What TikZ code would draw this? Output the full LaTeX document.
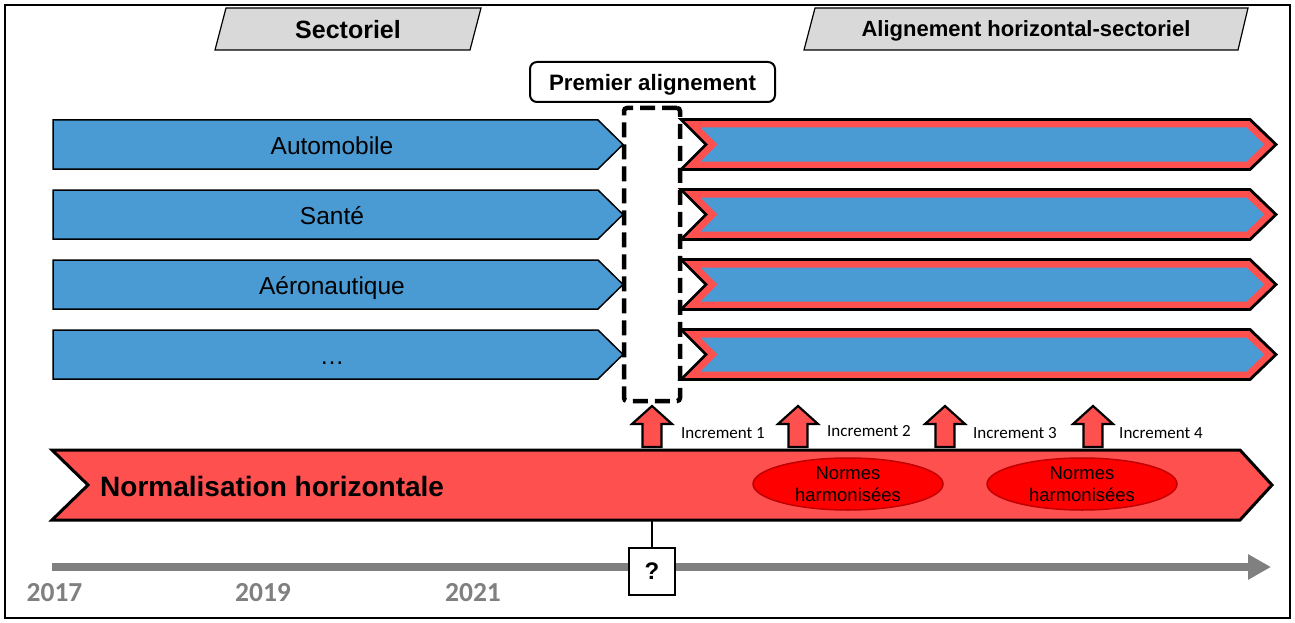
\documentclass[tikz,border=0pt]{standalone}
\usepackage{fontspec}
\setmainfont{Liberation Sans}
\newfontfamily\calfont{Carlito}
\usetikzlibrary{arrows.meta,shapes.geometric}
\definecolor{sblue}{RGB}{74,155,212}
\definecolor{sred}{RGB}{255,80,80}
\definecolor{ered}{RGB}{255,0,0}
\definecolor{eborder}{RGB}{192,0,0}
\definecolor{tabgray}{RGB}{217,217,217}
\definecolor{tgray}{RGB}{128,128,128}
\tikzset{
  tabshape/.style={draw=black, fill=tabgray, line width=1.2},
  tabtxt/.style={inner sep=0, font=\fontsize{25}{30}\selectfont\bfseries},
  tabtxtsm/.style={inner sep=0, font=\fontsize{22}{26}\selectfont\bfseries},
  sectarrow/.style={draw=black, fill=sblue, line width=1.5},
  secttxt/.style={inner sep=0, anchor=base, font=\fontsize{24.5}{28}\selectfont},
  blockup/.style={draw=black, fill=sred, line width=2.2},
  inctxt/.style={anchor=west, inner sep=0, font=\calfont\fontsize{17}{20}\selectfont},
  normell/.style={ellipse, draw=eborder, fill=ered, line width=1.5, minimum width=190, minimum height=52, inner sep=0},
  normtxt/.style={align=center, inner sep=0, font=\fontsize{18.5}{22}\selectfont},
  yeartxt/.style={inner sep=0, text=tgray, font=\calfont\bfseries\fontsize{27.5}{30}\selectfont}
}
\begin{document}
\begin{tikzpicture}[x=1pt,y=-1pt,line join=miter]
\useasboundingbox (0,0) rectangle (1295,623);
\fill[white] (0,0) rectangle (1295,623);
\draw[line width=2] (5,5) rectangle (1290,618);

% top tabs
\draw[tabshape] (226,8) -- (481,8) -- (470,50) -- (215,50) -- cycle;
\node[tabtxt] (sect) at (348,30) {Sectoriel};
\draw[tabshape] (815,8) -- (1248,8) -- (1238,50) -- (804,50) -- cycle;
\node[tabtxtsm] (align) at (1026,30.5) {Alignement horizontal-sectoriel};

% premier alignement
\node[draw=black, fill=white, line width=2, rounded corners=7, minimum width=245, minimum height=40, text height=17, text depth=0, font=\fontsize{22.3}{26}\selectfont\bfseries] (prem) at (652.5,82) {Premier alignement};

% sector arrows
\foreach \c/\t [count=\i] in {144.5/Automobile,214.5/Santé,284.5/Aéronautique,354.5/…}{
  \draw[sectarrow] (53,\c-24.5) -- (598,\c-24.5) -- (623,\c) -- (598,\c+24.5) -- (53,\c+24.5) -- cycle;
  \node[secttxt] (s\i) at (332,\c+9.5) {\t};
  \fill[sblue] (681,\c-25) -- (1250,\c-25) -- (1276,\c) -- (1250,\c+25) -- (681,\c+25) -- (706,\c) -- cycle;
  \begin{scope}
    \clip (681,\c-25) -- (1250,\c-25) -- (1276,\c) -- (1250,\c+25) -- (681,\c+25) -- (706,\c) -- cycle;
    \draw[sred, line width=16] (681,\c-25) -- (1250,\c-25) -- (1276,\c) -- (1250,\c+25) -- (681,\c+25) -- (706,\c) -- cycle;
  \end{scope}
  \draw[line width=2.8] (681,\c-25) -- (1250,\c-25) -- (1276,\c) -- (1250,\c+25) -- (681,\c+25) -- (706,\c) -- cycle;
}

% dashed gap box
\node[draw=black, line width=4.5, dash pattern=on 15 off 7, rounded corners=3, minimum width=56, minimum height=293, inner sep=0] (gap) at (652,254.5) {};

% horizontal band
\draw[line width=3, fill=sred] (52,450) -- (1240,450) -- (1272,485) -- (1240,520) -- (52,520) -- (88,485) -- cycle;
\node[anchor=west, inner sep=0, font=\fontsize{28}{32}\selectfont\bfseries] (norm) at (100,486) {Normalisation horizontale};

\node[normell] (e1) at (848,484) {};
\node[normtxt] (n1) at (e1) {Normes\\harmonisées};
\node[normell] (e2) at (1082,484) {};
\node[normtxt] (n2) at (e2) {Normes\\harmonisées};

% increments
\foreach \x/\lx/\ly [count=\i] in {652/681/433,798/827/431,945/973/433,1093/1119/433}{
  \draw[blockup] (\x-9.5,447) -- (\x-9.5,424) -- (\x-20,424) -- (\x,406) -- (\x+20,424) -- (\x+9.5,424) -- (\x+9.5,447) -- cycle;
  \node[inctxt] (inc\i) at (\lx,\ly) {Increment \i};
}

% timeline
\coordinate (t0) at (52,567);
\coordinate (t1) at (1271,567);
\draw[tgray, line width=8, -{Triangle[length=23pt,width=24pt]}] (t0) -- (t1);
\node[draw=black, fill=white, line width=1.5, minimum width=46, minimum height=47, inner sep=0, font=\fontsize{24}{28}\selectfont\bfseries] (q) at (652,571.5) {?};
\coordinate (bandbot) at (652,520);
\draw[line width=2] (bandbot) -- (q.north);

\node[yeartxt] (y17) at (54.5,593) {2017};
\node[yeartxt] (y19) at (263,593) {2019};
\node[yeartxt] (y21) at (473,593) {2021};
\end{tikzpicture}
\end{document}
